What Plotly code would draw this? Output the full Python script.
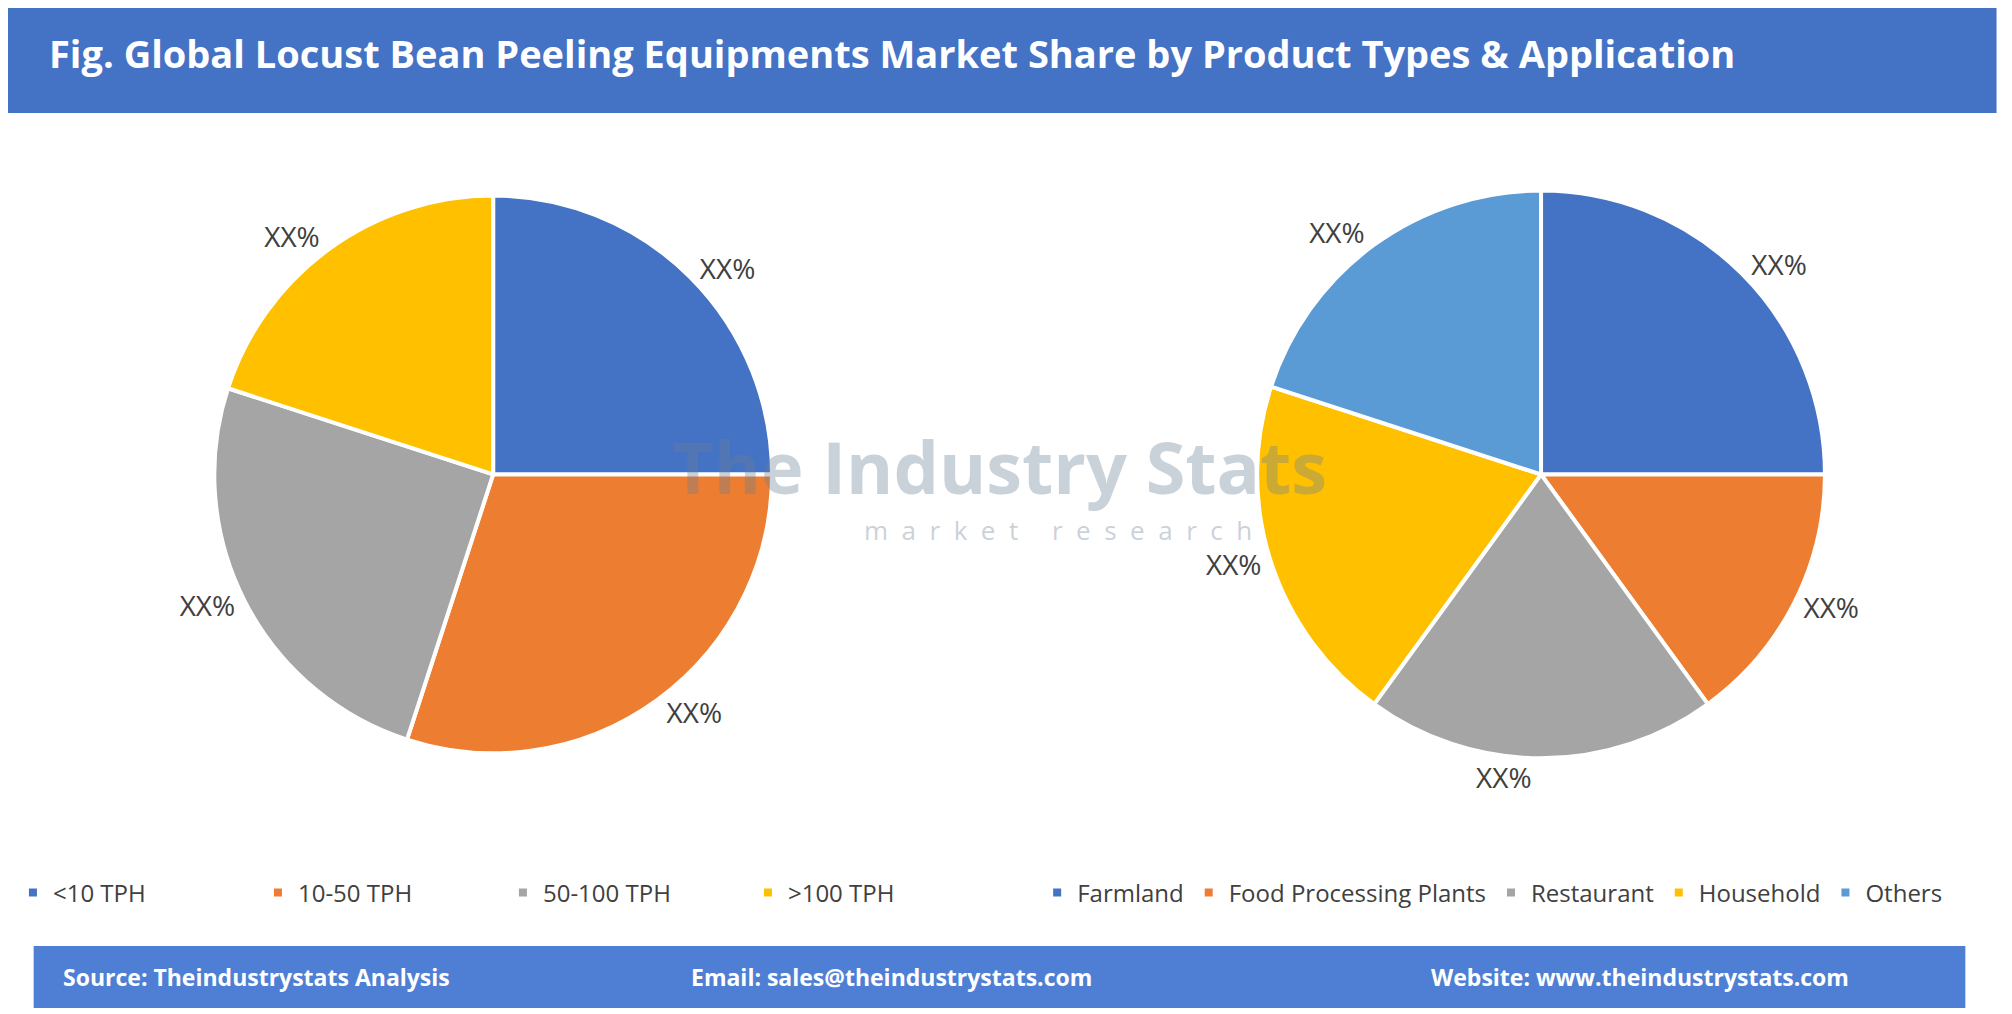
import plotly.graph_objects as go

# data
types = ["<10 TPH", "10-50 TPH", "50-100 TPH", ">100 TPH"]
type_share = [25, 30, 25, 20]
apps = ["Farmland", "Food Processing Plants", "Restaurant", "Household", "Others"]
app_share = [25, 15, 20, 20, 20]

colors_l = ["#4472C4", "#ED7D31", "#A5A5A5", "#FFC000"]
colors_r = ["#4472C4", "#ED7D31", "#A5A5A5", "#FFC000", "#5B9BD5"]

W, H = 2012, 1014
fig = go.Figure()

fig.add_trace(go.Pie(
    labels=types, values=type_share, sort=False, direction="clockwise", rotation=0,
    marker=dict(colors=colors_l, line=dict(color="white", width=4)),
    texttemplate="XX%", textposition="outside",
    textfont=dict(size=28, color="#404040", family="Open Sans"),
    domain=dict(x=[0.056, 0.426], y=[0.265, 0.815]), legend="legend",
    hoverinfo="label+percent",
))
fig.add_trace(go.Pie(
    labels=apps, values=app_share, sort=False, direction="clockwise", rotation=0,
    marker=dict(colors=colors_r, line=dict(color="white", width=4)),
    texttemplate="XX%", textposition="outside",
    textfont=dict(size=28, color="#404040", family="Open Sans"),
    domain=dict(x=[0.592, 0.962], y=[0.26, 0.82]), legend="legend2",
    hoverinfo="label+percent",
))

# header and footer bars
fig.add_shape(type="rect", xref="paper", yref="paper", x0=-0.01, x1=1.01, y0=1 - 105 / H, y1=1.02,
              fillcolor="#4472C4", line_width=0, layer="below")
fig.add_shape(type="rect", xref="paper", yref="paper", x0=12 / W, x1=1 - 12 / W,
              y0=1 - 1000 / H, y1=1 - 938 / H, fillcolor="#4F7FD4", line_width=0, layer="below")

fig.add_annotation(text="Fig. Global Locust Bean Peeling Equipments Market Share by Product Types & Application",
                   xref="paper", yref="paper", x=26 / W, y=1 - 45 / H, xanchor="left", yanchor="middle",
                   showarrow=False, font=dict(size=38, color="white", family="Open Sans", weight="bold"))

footer = [("Source: Theindustrystats Analysis", 40 / W, "left"),
          ("Email: sales@theindustrystats.com", 0.445, "center"),
          ("Website: www.theindustrystats.com", 1882 / W, "right")]
for txt, x, anc in footer:
    fig.add_annotation(text=txt, xref="paper", yref="paper", x=x, y=1 - 969 / H, xanchor=anc,
                       yanchor="middle", showarrow=False,
                       font=dict(size=23, color="white", family="Open Sans", weight="bold"))

# watermark
fig.add_annotation(text="The Industry Stats", xref="paper", yref="paper", x=0.5, y=1 - 458 / H,
                   showarrow=False, opacity=0.35,
                   font=dict(size=72, color="#6b7f95", family="Open Sans", weight="bold"))
fig.add_annotation(text="m  a  r  k  e  t     r  e  s  e  a  r  c  h", xref="paper", yref="paper",
                   x=0.53, y=1 - 522 / H, showarrow=False, opacity=0.35,
                   font=dict(size=26, color="#6b7f95", family="Open Sans"))

leg = dict(orientation="h", yanchor="middle", xanchor="center", y=1 - 885 / H,
           font=dict(size=24, color="#404040", family="Open Sans"), bgcolor="rgba(0,0,0,0)",
           itemwidth=30)
fig.update_layout(
    width=W, height=H, margin=dict(l=0, r=0, t=0, b=0),
    paper_bgcolor="white", plot_bgcolor="white",
    legend=dict(leg, x=0.246, entrywidth=200),
    legend2=dict(leg, x=0.752),
    showlegend=True,
)

fig.write_html("out.html")
